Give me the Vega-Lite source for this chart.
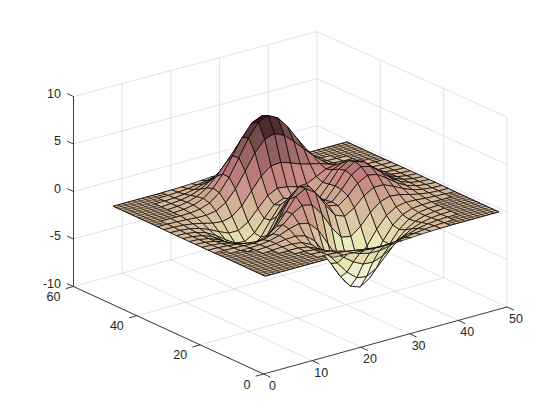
{"$schema":"https://vega.github.io/schema/vega-lite/v6.json","width":560,"height":420,"autosize":{"type":"fit","contains":"padding"},"padding":0,"background":"white","config":{"view":{"stroke":null}},
"datasets":{"segs":[
{"k":"g","x":0,"y":0,"z":-10,"x2":0,"y2":60,"z2":-10},{"k":"g","x":10,"y":0,"z":-10,"x2":10,"y2":60,"z2":-10},{"k":"g","x":20,"y":0,"z":-10,"x2":20,"y2":60,"z2":-10},{"k":"g","x":30,"y":0,"z":-10,"x2":30,"y2":60,"z2":-10},{"k":"g","x":40,"y":0,"z":-10,"x2":40,"y2":60,"z2":-10},{"k":"g","x":50,"y":0,"z":-10,"x2":50,"y2":60,"z2":-10},
{"k":"g","x":0,"y":20,"z":-10,"x2":50,"y2":20,"z2":-10},{"k":"g","x":0,"y":40,"z":-10,"x2":50,"y2":40,"z2":-10},{"k":"g","x":0,"y":60,"z":-10,"x2":50,"y2":60,"z2":-10},
{"k":"g","x":10,"y":60,"z":-10,"x2":10,"y2":60,"z2":9.95},{"k":"g","x":20,"y":60,"z":-10,"x2":20,"y2":60,"z2":9.9},{"k":"g","x":30,"y":60,"z":-10,"x2":30,"y2":60,"z2":9.86},{"k":"g","x":40,"y":60,"z":-10,"x2":40,"y2":60,"z2":9.82},{"k":"g","x":50,"y":60,"z":-10,"x2":50,"y2":60,"z2":9.77},
{"k":"g","x":0,"y":60,"z":-5,"x2":50,"y2":60,"z2":-5.05},{"k":"g","x":0,"y":60,"z":0,"x2":50,"y2":60,"z2":-0.12},{"k":"g","x":0,"y":60,"z":5,"x2":50,"y2":60,"z2":4.83},{"k":"g","x":0,"y":60,"z":10,"x2":50,"y2":60,"z2":9.77},
{"k":"g","x":50,"y":0,"z":-10,"x2":50,"y2":0,"z2":10},{"k":"g","x":50,"y":20,"z":-10,"x2":50,"y2":20,"z2":9.92},{"k":"g","x":50,"y":40,"z":-10,"x2":50,"y2":40,"z2":9.85},
{"k":"g","x":50,"y":0,"z":-5,"x2":50,"y2":60,"z2":-5.05},{"k":"g","x":50,"y":0,"z":0,"x2":50,"y2":60,"z2":-0.12},{"k":"g","x":50,"y":0,"z":5,"x2":50,"y2":60,"z2":4.83},{"k":"g","x":50,"y":0,"z":10,"x2":50,"y2":60,"z2":9.77},
{"k":"a","x":0,"y":0,"z":-10,"x2":50,"y2":0,"z2":-10},{"k":"a","x":0,"y":0,"z":-10,"x2":0,"y2":60,"z2":-10},{"k":"a","x":0,"y":60,"z":-10,"x2":0,"y2":60,"z2":10},
{"k":"a","x":0,"y":0,"z":-10,"x2":0,"y2":-2.2,"z2":-10},{"k":"a","x":10,"y":0,"z":-10,"x2":10,"y2":-2.2,"z2":-10},{"k":"a","x":20,"y":0,"z":-10,"x2":20,"y2":-2.2,"z2":-10},{"k":"a","x":30,"y":0,"z":-10,"x2":30,"y2":-2.2,"z2":-10},{"k":"a","x":40,"y":0,"z":-10,"x2":40,"y2":-2.2,"z2":-10},{"k":"a","x":50,"y":0,"z":-10,"x2":50,"y2":-2.2,"z2":-10},
{"k":"a","x":0,"y":0,"z":-10,"x2":-1.6,"y2":0,"z2":-10},{"k":"a","x":0,"y":20,"z":-10,"x2":-1.6,"y2":20,"z2":-10},{"k":"a","x":0,"y":40,"z":-10,"x2":-1.6,"y2":40,"z2":-10},{"k":"a","x":0,"y":60,"z":-10,"x2":-1.6,"y2":60,"z2":-10},
{"k":"a","x":0,"y":60,"z":-10,"x2":0,"y2":62,"z2":-10},{"k":"a","x":0,"y":60,"z":-5,"x2":0,"y2":62,"z2":-5},{"k":"a","x":0,"y":60,"z":0,"x2":0,"y2":62,"z2":0},{"k":"a","x":0,"y":60,"z":5,"x2":0,"y2":62,"z2":5},{"k":"a","x":0,"y":60,"z":10,"x2":0,"y2":62,"z2":10},
{"k":"m","x":1,"y":1,"z":0,"x2":1,"y2":49,"z2":0},{"k":"m","x":2,"y":1,"z":0,"x2":2,"y2":49,"z2":0},{"k":"m","x":3,"y":1,"z":0,"x2":3,"y2":49,"z2":0},{"k":"m","x":4,"y":1,"z":0,"x2":4,"y2":49,"z2":0},{"k":"m","x":5,"y":1,"z":0,"x2":5,"y2":49,"z2":0},{"k":"m","x":6,"y":1,"z":0,"x2":6,"y2":49,"z2":0},{"k":"m","x":7,"y":1,"z":0,"x2":7,"y2":49,"z2":0},{"k":"m","x":8,"y":1,"z":0,"x2":8,"y2":49,"z2":0},{"k":"m","x":9,"y":1,"z":0,"x2":9,"y2":49,"z2":0},{"k":"m","x":10,"y":1,"z":0,"x2":10,"y2":49,"z2":0},{"k":"m","x":11,"y":1,"z":0,"x2":11,"y2":49,"z2":0},{"k":"m","x":12,"y":1,"z":0,"x2":12,"y2":49,"z2":0},{"k":"m","x":13,"y":1,"z":0,"x2":13,"y2":49,"z2":0},{"k":"m","x":14,"y":1,"z":0,"x2":14,"y2":49,"z2":0},{"k":"m","x":15,"y":1,"z":0,"x2":15,"y2":49,"z2":0},{"k":"m","x":16,"y":1,"z":0,"x2":16,"y2":49,"z2":0},{"k":"m","x":17,"y":1,"z":0,"x2":17,"y2":49,"z2":0},{"k":"m","x":18,"y":1,"z":0,"x2":18,"y2":49,"z2":0},{"k":"m","x":19,"y":1,"z":0,"x2":19,"y2":49,"z2":0},{"k":"m","x":20,"y":1,"z":0,"x2":20,"y2":49,"z2":0},{"k":"m","x":21,"y":1,"z":0,"x2":21,"y2":49,"z2":0},{"k":"m","x":22,"y":1,"z":0,"x2":22,"y2":49,"z2":0},{"k":"m","x":23,"y":1,"z":0,"x2":23,"y2":49,"z2":0},{"k":"m","x":24,"y":1,"z":0,"x2":24,"y2":49,"z2":0},{"k":"m","x":25,"y":1,"z":0,"x2":25,"y2":49,"z2":0},{"k":"m","x":26,"y":1,"z":0,"x2":26,"y2":49,"z2":0},{"k":"m","x":27,"y":1,"z":0,"x2":27,"y2":49,"z2":0},{"k":"m","x":28,"y":1,"z":0,"x2":28,"y2":49,"z2":0},{"k":"m","x":29,"y":1,"z":0,"x2":29,"y2":49,"z2":0},{"k":"m","x":30,"y":1,"z":0,"x2":30,"y2":49,"z2":0},{"k":"m","x":31,"y":1,"z":0,"x2":31,"y2":49,"z2":0},{"k":"m","x":32,"y":1,"z":0,"x2":32,"y2":49,"z2":0},{"k":"m","x":33,"y":1,"z":0,"x2":33,"y2":49,"z2":0},{"k":"m","x":34,"y":1,"z":0,"x2":34,"y2":49,"z2":0},{"k":"m","x":35,"y":1,"z":0,"x2":35,"y2":49,"z2":0},{"k":"m","x":36,"y":1,"z":0,"x2":36,"y2":49,"z2":0},{"k":"m","x":37,"y":1,"z":0,"x2":37,"y2":49,"z2":0},{"k":"m","x":38,"y":1,"z":0,"x2":38,"y2":49,"z2":0},{"k":"m","x":39,"y":1,"z":0,"x2":39,"y2":49,"z2":0},{"k":"m","x":40,"y":1,"z":0,"x2":40,"y2":49,"z2":0},{"k":"m","x":41,"y":1,"z":0,"x2":41,"y2":49,"z2":0},{"k":"m","x":42,"y":1,"z":0,"x2":42,"y2":49,"z2":0},{"k":"m","x":43,"y":1,"z":0,"x2":43,"y2":49,"z2":0},{"k":"m","x":44,"y":1,"z":0,"x2":44,"y2":49,"z2":0},{"k":"m","x":45,"y":1,"z":0,"x2":45,"y2":49,"z2":0},{"k":"m","x":46,"y":1,"z":0,"x2":46,"y2":49,"z2":0},{"k":"m","x":47,"y":1,"z":0,"x2":47,"y2":49,"z2":0},{"k":"m","x":48,"y":1,"z":0,"x2":48,"y2":49,"z2":0},{"k":"m","x":49,"y":1,"z":0,"x2":49,"y2":49,"z2":0},
{"k":"m","x":1,"y":1,"z":0,"x2":49,"y2":1,"z2":0},{"k":"m","x":1,"y":2,"z":0,"x2":49,"y2":2,"z2":0},{"k":"m","x":1,"y":3,"z":0,"x2":49,"y2":3,"z2":0},{"k":"m","x":1,"y":4,"z":0,"x2":49,"y2":4,"z2":0},{"k":"m","x":1,"y":5,"z":0,"x2":49,"y2":5,"z2":0},{"k":"m","x":1,"y":6,"z":0,"x2":49,"y2":6,"z2":0},{"k":"m","x":1,"y":7,"z":0,"x2":49,"y2":7,"z2":0},{"k":"m","x":1,"y":8,"z":0,"x2":49,"y2":8,"z2":0},{"k":"m","x":1,"y":9,"z":0,"x2":49,"y2":9,"z2":0},{"k":"m","x":1,"y":10,"z":0,"x2":49,"y2":10,"z2":0},{"k":"m","x":1,"y":11,"z":0,"x2":49,"y2":11,"z2":0},{"k":"m","x":1,"y":12,"z":0,"x2":49,"y2":12,"z2":0},{"k":"m","x":1,"y":13,"z":0,"x2":49,"y2":13,"z2":0},{"k":"m","x":1,"y":14,"z":0,"x2":49,"y2":14,"z2":0},{"k":"m","x":1,"y":15,"z":0,"x2":49,"y2":15,"z2":0},{"k":"m","x":1,"y":16,"z":0,"x2":49,"y2":16,"z2":0},{"k":"m","x":1,"y":17,"z":0,"x2":49,"y2":17,"z2":0},{"k":"m","x":1,"y":18,"z":0,"x2":49,"y2":18,"z2":0},{"k":"m","x":1,"y":19,"z":0,"x2":49,"y2":19,"z2":0},{"k":"m","x":1,"y":20,"z":0,"x2":49,"y2":20,"z2":0},{"k":"m","x":1,"y":21,"z":0,"x2":49,"y2":21,"z2":0},{"k":"m","x":1,"y":22,"z":0,"x2":49,"y2":22,"z2":0},{"k":"m","x":1,"y":23,"z":0,"x2":49,"y2":23,"z2":0},{"k":"m","x":1,"y":24,"z":0,"x2":49,"y2":24,"z2":0},{"k":"m","x":1,"y":25,"z":0,"x2":49,"y2":25,"z2":0},{"k":"m","x":1,"y":26,"z":0,"x2":49,"y2":26,"z2":0},{"k":"m","x":1,"y":27,"z":0,"x2":49,"y2":27,"z2":0},{"k":"m","x":1,"y":28,"z":0,"x2":49,"y2":28,"z2":0},{"k":"m","x":1,"y":29,"z":0,"x2":49,"y2":29,"z2":0},{"k":"m","x":1,"y":30,"z":0,"x2":49,"y2":30,"z2":0},{"k":"m","x":1,"y":31,"z":0,"x2":49,"y2":31,"z2":0},{"k":"m","x":1,"y":32,"z":0,"x2":49,"y2":32,"z2":0},{"k":"m","x":1,"y":33,"z":0,"x2":49,"y2":33,"z2":0},{"k":"m","x":1,"y":34,"z":0,"x2":49,"y2":34,"z2":0},{"k":"m","x":1,"y":35,"z":0,"x2":49,"y2":35,"z2":0},{"k":"m","x":1,"y":36,"z":0,"x2":49,"y2":36,"z2":0},{"k":"m","x":1,"y":37,"z":0,"x2":49,"y2":37,"z2":0},{"k":"m","x":1,"y":38,"z":0,"x2":49,"y2":38,"z2":0},{"k":"m","x":1,"y":39,"z":0,"x2":49,"y2":39,"z2":0},{"k":"m","x":1,"y":40,"z":0,"x2":49,"y2":40,"z2":0},{"k":"m","x":1,"y":41,"z":0,"x2":49,"y2":41,"z2":0},{"k":"m","x":1,"y":42,"z":0,"x2":49,"y2":42,"z2":0},{"k":"m","x":1,"y":43,"z":0,"x2":49,"y2":43,"z2":0},{"k":"m","x":1,"y":44,"z":0,"x2":49,"y2":44,"z2":0},{"k":"m","x":1,"y":45,"z":0,"x2":49,"y2":45,"z2":0},{"k":"m","x":1,"y":46,"z":0,"x2":49,"y2":46,"z2":0},{"k":"m","x":1,"y":47,"z":0,"x2":49,"y2":47,"z2":0},{"k":"m","x":1,"y":48,"z":0,"x2":49,"y2":48,"z2":0},{"k":"m","x":1,"y":49,"z":0,"x2":49,"y2":49,"z2":0}
],
"base":[{"x":1,"y":1,"v":0},{"x":49,"y":1,"v":1},{"x":49,"y":49,"v":2},{"x":1,"y":49,"v":3}],
"labels":[{"a":"x","x":0,"y":0,"z":-10,"t":"0"},{"a":"x","x":10,"y":0,"z":-10,"t":"10"},{"a":"x","x":20,"y":0,"z":-10,"t":"20"},{"a":"x","x":30,"y":0,"z":-10,"t":"30"},{"a":"x","x":40,"y":0,"z":-10,"t":"40"},{"a":"x","x":50,"y":0,"z":-10,"t":"50"},
{"a":"y","x":0,"y":0,"z":-10,"t":"0"},{"a":"y","x":0,"y":20,"z":-10,"t":"20"},{"a":"y","x":0,"y":40,"z":-10,"t":"40"},{"a":"y","x":0,"y":60,"z":-10,"t":"60"},
{"a":"z","x":0,"y":60,"z":-10,"t":"-10"},{"a":"z","x":0,"y":60,"z":-5,"t":"-5"},{"a":"z","x":0,"y":60,"z":0,"t":"0"},{"a":"z","x":0,"y":60,"z":5,"t":"5"},{"a":"z","x":0,"y":60,"z":10,"t":"10"}],
"cells":[
{"x":37,"y":47,"z":[0.09,0.04,0.01,0.03]},{"x":35,"y":47,"z":[0.17,0.09,0.03,0.06]},{"x":33,"y":47,"z":[0.30,0.17,0.06,0.11]},{"x":31,"y":47,"z":[0.47,0.30,0.11,0.17]},{"x":29,"y":47,"z":[0.64,0.47,0.17,0.23]},{"x":27,"y":47,"z":[0.77,0.64,0.23,0.28]},{"x":25,"y":47,"z":[0.82,0.77,0.28,0.30]},{"x":23,"y":47,"z":[0.77,0.82,0.30,0.28]},{"x":21,"y":47,"z":[0.64,0.77,0.28,0.23]},{"x":19,"y":47,"z":[0.47,0.64,0.23,0.17]},{"x":17,"y":47,"z":[0.30,0.47,0.17,0.11]},{"x":15,"y":47,"z":[0.17,0.30,0.11,0.06]},{"x":13,"y":47,"z":[0.09,0.17,0.06,0.03]},{"x":11,"y":47,"z":[0.04,0.09,0.03,0.01]},
{"x":39,"y":45,"z":[0.09,0.04,0.01,0.04]},{"x":37,"y":45,"z":[0.21,0.09,0.04,0.09]},{"x":35,"y":45,"z":[0.40,0.21,0.09,0.17]},{"x":33,"y":45,"z":[0.70,0.40,0.17,0.30]},{"x":31,"y":45,"z":[1.08,0.70,0.30,0.47]},{"x":29,"y":45,"z":[1.47,1.08,0.47,0.64]},{"x":27,"y":45,"z":[1.77,1.47,0.64,0.77]},{"x":25,"y":45,"z":[1.89,1.77,0.77,0.82]},{"x":23,"y":45,"z":[1.77,1.89,0.82,0.77]},{"x":21,"y":45,"z":[1.47,1.77,0.77,0.64]},{"x":19,"y":45,"z":[1.07,1.47,0.64,0.47]},{"x":17,"y":45,"z":[0.69,1.07,0.47,0.30]},{"x":15,"y":45,"z":[0.39,0.69,0.30,0.17]},{"x":13,"y":45,"z":[0.19,0.39,0.17,0.09]},{"x":11,"y":45,"z":[0.08,0.19,0.09,0.04]},{"x":9,"y":45,"z":[0.03,0.08,0.04,0.01]},
{"x":41,"y":43,"z":[0.08,0.03,0.01,0.04]},{"x":39,"y":43,"z":[0.19,0.08,0.04,0.09]},{"x":37,"y":43,"z":[0.41,0.19,0.09,0.21]},{"x":35,"y":43,"z":[0.79,0.41,0.21,0.40]},{"x":33,"y":43,"z":[1.36,0.79,0.40,0.70]},{"x":31,"y":43,"z":[2.09,1.36,0.70,1.08]},{"x":29,"y":43,"z":[2.84,2.09,1.08,1.47]},{"x":27,"y":43,"z":[3.43,2.84,1.47,1.77]},{"x":25,"y":43,"z":[3.65,3.43,1.77,1.89]},{"x":23,"y":43,"z":[3.43,3.65,1.89,1.77]},{"x":21,"y":43,"z":[2.84,3.43,1.77,1.47]},{"x":19,"y":43,"z":[2.07,2.84,1.47,1.07]},{"x":17,"y":43,"z":[1.32,2.07,1.07,0.69]},{"x":15,"y":43,"z":[0.74,1.32,0.69,0.39]},{"x":13,"y":43,"z":[0.36,0.74,0.39,0.19]},{"x":11,"y":43,"z":[0.15,0.36,0.19,0.08]},{"x":9,"y":43,"z":[0.06,0.15,0.08,0.03]},{"x":7,"y":43,"z":[0.02,0.06,0.03,0.01]},
{"x":43,"y":41,"z":[0.05,0.02,0.01,0.03]},{"x":41,"y":41,"z":[0.13,0.05,0.03,0.08]},{"x":39,"y":41,"z":[0.32,0.13,0.08,0.19]},{"x":37,"y":41,"z":[0.68,0.32,0.19,0.41]},{"x":35,"y":41,"z":[1.29,0.68,0.41,0.79]},{"x":33,"y":41,"z":[2.21,1.29,0.79,1.36]},{"x":31,"y":41,"z":[3.37,2.21,1.36,2.09]},{"x":29,"y":41,"z":[4.57,3.37,2.09,2.84]},{"x":27,"y":41,"z":[5.50,4.57,2.84,3.43]},{"x":25,"y":41,"z":[5.86,5.50,3.43,3.65]},{"x":23,"y":41,"z":[5.51,5.86,3.65,3.43]},{"x":21,"y":41,"z":[4.56,5.51,3.43,2.84]},{"x":19,"y":41,"z":[3.31,4.56,2.84,2.07]},{"x":17,"y":41,"z":[2.10,3.31,2.07,1.32]},{"x":15,"y":41,"z":[1.16,2.10,1.32,0.74]},{"x":13,"y":41,"z":[0.55,1.16,0.74,0.36]},{"x":11,"y":41,"z":[0.23,0.55,0.36,0.15]},{"x":9,"y":41,"z":[0.08,0.23,0.15,0.06]},{"x":7,"y":41,"z":[0.02,0.08,0.06,0.02]},
{"x":43,"y":39,"z":[0.08,0.03,0.02,0.05]},{"x":41,"y":39,"z":[0.21,0.08,0.05,0.13]},{"x":39,"y":39,"z":[0.47,0.21,0.13,0.32]},{"x":37,"y":39,"z":[0.96,0.47,0.32,0.68]},{"x":35,"y":39,"z":[1.78,0.96,0.68,1.29]},{"x":33,"y":39,"z":[2.96,1.78,1.29,2.21]},{"x":31,"y":39,"z":[4.45,2.96,2.21,3.37]},{"x":29,"y":39,"z":[5.98,4.45,3.37,4.57]},{"x":27,"y":39,"z":[7.19,5.98,4.57,5.50]},{"x":25,"y":39,"z":[7.67,7.19,5.50,5.86]},{"x":23,"y":39,"z":[7.22,7.67,5.86,5.51]},{"x":21,"y":39,"z":[5.96,7.22,5.51,4.56]},{"x":19,"y":39,"z":[4.29,5.96,4.56,3.31]},{"x":17,"y":39,"z":[2.67,4.29,3.31,2.10]},{"x":15,"y":39,"z":[1.43,2.67,2.10,1.16]},{"x":13,"y":39,"z":[0.65,1.43,1.16,0.55]},{"x":11,"y":39,"z":[0.24,0.65,0.55,0.23]},{"x":9,"y":39,"z":[0.07,0.24,0.23,0.08]},{"x":7,"y":39,"z":[0.01,0.07,0.08,0.02]},
{"x":45,"y":37,"z":[0.05,0.02,0.01,0.03]},{"x":43,"y":37,"z":[0.12,0.05,0.03,0.08]},{"x":41,"y":37,"z":[0.29,0.12,0.08,0.21]},{"x":39,"y":37,"z":[0.62,0.29,0.21,0.47]},{"x":37,"y":37,"z":[1.19,0.62,0.47,0.96]},{"x":35,"y":37,"z":[2.05,1.19,0.96,1.78]},{"x":33,"y":37,"z":[3.25,2.05,1.78,2.96]},{"x":31,"y":37,"z":[4.72,3.25,2.96,4.45]},{"x":29,"y":37,"z":[6.25,4.72,4.45,5.98]},{"x":27,"y":37,"z":[7.48,6.25,5.98,7.19]},{"x":25,"y":37,"z":[8.00,7.48,7.19,7.67]},{"x":23,"y":37,"z":[7.54,8.00,7.67,7.22]},{"x":21,"y":37,"z":[6.20,7.54,7.22,5.96]},{"x":19,"y":37,"z":[4.38,6.20,5.96,4.29]},{"x":17,"y":37,"z":[2.61,4.38,4.29,2.67]},{"x":15,"y":37,"z":[1.28,2.61,2.67,1.43]},{"x":13,"y":37,"z":[0.48,1.28,1.43,0.65]},{"x":11,"y":37,"z":[0.11,0.48,0.65,0.24]},{"x":9,"y":37,"z":[-0.01,0.11,0.24,0.07]},{"x":7,"y":37,"z":[-0.03,-0.01,0.07,0.01]},
{"x":47,"y":35,"z":[0.03,0.01,0,0.02]},{"x":45,"y":35,"z":[0.07,0.03,0.02,0.05]},{"x":43,"y":35,"z":[0.19,0.07,0.05,0.12]},{"x":41,"y":35,"z":[0.41,0.19,0.12,0.29]},{"x":39,"y":35,"z":[0.79,0.41,0.29,0.62]},{"x":37,"y":35,"z":[1.35,0.79,0.62,1.19]},{"x":35,"y":35,"z":[2.09,1.35,1.19,2.05]},{"x":33,"y":35,"z":[2.97,2.09,2.05,3.25]},{"x":31,"y":35,"z":[3.97,2.97,3.25,4.72]},{"x":29,"y":35,"z":[5.02,3.97,4.72,6.25]},{"x":27,"y":35,"z":[5.94,5.02,6.25,7.48]},{"x":25,"y":35,"z":[6.39,5.94,7.48,8.00]},{"x":23,"y":35,"z":[6.06,6.39,8.00,7.54]},{"x":21,"y":35,"z":[4.92,6.06,7.54,6.20]},{"x":19,"y":35,"z":[3.29,4.92,6.20,4.38]},{"x":17,"y":35,"z":[1.69,3.29,4.38,2.61]},{"x":15,"y":35,"z":[0.55,1.69,2.61,1.28]},{"x":13,"y":35,"z":[-0.05,0.55,1.28,0.48]},{"x":11,"y":35,"z":[-0.22,-0.05,0.48,0.11]},{"x":9,"y":35,"z":[-0.20,-0.22,0.11,-0.01]},{"x":7,"y":35,"z":[-0.12,-0.20,-0.01,-0.03]},{"x":5,"y":35,"z":[-0.06,-0.12,-0.03,-0.02]},{"x":3,"y":35,"z":[-0.02,-0.06,-0.02,-0.01]},
{"x":47,"y":33,"z":[0.04,0.01,0.01,0.03]},{"x":45,"y":33,"z":[0.11,0.04,0.03,0.07]},{"x":43,"y":33,"z":[0.28,0.11,0.07,0.19]},{"x":41,"y":33,"z":[0.58,0.28,0.19,0.41]},{"x":39,"y":33,"z":[1.03,0.58,0.41,0.79]},{"x":37,"y":33,"z":[1.58,1.03,0.79,1.35]},{"x":35,"y":33,"z":[2.08,1.58,1.35,2.09]},{"x":33,"y":33,"z":[2.43,2.08,2.09,2.97]},{"x":31,"y":33,"z":[2.66,2.43,2.97,3.97]},{"x":29,"y":33,"z":[2.94,2.66,3.97,5.02]},{"x":27,"y":33,"z":[3.34,2.94,5.02,5.94]},{"x":25,"y":33,"z":[3.69,3.34,5.94,6.39]},{"x":23,"y":33,"z":[3.59,3.69,6.39,6.06]},{"x":21,"y":33,"z":[2.79,3.59,6.06,4.92]},{"x":19,"y":33,"z":[1.51,2.79,4.92,3.29]},{"x":17,"y":33,"z":[0.23,1.51,3.29,1.69]},{"x":15,"y":33,"z":[-0.60,0.23,1.69,0.55]},{"x":13,"y":33,"z":[-0.86,-0.60,0.55,-0.05]},{"x":11,"y":33,"z":[-0.74,-0.86,-0.05,-0.22]},{"x":9,"y":33,"z":[-0.48,-0.74,-0.22,-0.20]},{"x":7,"y":33,"z":[-0.25,-0.48,-0.20,-0.12]},{"x":5,"y":33,"z":[-0.11,-0.25,-0.12,-0.06]},{"x":3,"y":33,"z":[-0.04,-0.11,-0.06,-0.02]},{"x":1,"y":33,"z":[-0.01,-0.04,-0.02,-0.01]},
{"x":47,"y":31,"z":[0.06,0.02,0.01,0.04]},{"x":45,"y":31,"z":[0.17,0.06,0.04,0.11]},{"x":43,"y":31,"z":[0.41,0.17,0.11,0.28]},{"x":41,"y":31,"z":[0.82,0.41,0.28,0.58]},{"x":39,"y":31,"z":[1.40,0.82,0.58,1.03]},{"x":37,"y":31,"z":[1.99,1.40,1.03,1.58]},{"x":35,"y":31,"z":[2.32,1.99,1.58,2.08]},{"x":33,"y":31,"z":[2.17,2.32,2.08,2.43]},{"x":31,"y":31,"z":[1.65,2.17,2.43,2.66]},{"x":29,"y":31,"z":[1.17,1.65,2.66,2.94]},{"x":27,"y":31,"z":[1.12,1.17,2.94,3.34]},{"x":25,"y":31,"z":[1.42,1.12,3.34,3.69]},{"x":23,"y":31,"z":[1.55,1.42,3.69,3.59]},{"x":21,"y":31,"z":[1.04,1.55,3.59,2.79]},{"x":19,"y":31,"z":[-0.05,1.04,2.79,1.51]},{"x":17,"y":31,"z":[-1.16,-0.05,1.51,0.23]},{"x":15,"y":31,"z":[-1.78,-1.16,0.23,-0.60]},{"x":13,"y":31,"z":[-1.76,-1.78,-0.60,-0.86]},{"x":11,"y":31,"z":[-1.33,-1.76,-0.86,-0.74]},{"x":9,"y":31,"z":[-0.82,-1.33,-0.74,-0.48]},{"x":7,"y":31,"z":[-0.42,-0.82,-0.48,-0.25]},{"x":5,"y":31,"z":[-0.18,-0.42,-0.25,-0.11]},{"x":3,"y":31,"z":[-0.07,-0.18,-0.11,-0.04]},{"x":1,"y":31,"z":[-0.02,-0.07,-0.04,-0.01]},
{"x":47,"y":29,"z":[0.08,0.02,0.02,0.06]},{"x":45,"y":29,"z":[0.23,0.08,0.06,0.17]},{"x":43,"y":29,"z":[0.55,0.23,0.17,0.41]},{"x":41,"y":29,"z":[1.09,0.55,0.41,0.82]},{"x":39,"y":29,"z":[1.84,1.09,0.82,1.40]},{"x":37,"y":29,"z":[2.56,1.84,1.40,1.99]},{"x":35,"y":29,"z":[2.83,2.56,1.99,2.32]},{"x":33,"y":29,"z":[2.38,2.83,2.32,2.17]},{"x":31,"y":29,"z":[1.34,2.38,2.17,1.65]},{"x":29,"y":29,"z":[0.38,1.34,1.65,1.17]},{"x":27,"y":29,"z":[0.09,0.38,1.17,1.12]},{"x":25,"y":29,"z":[0.46,0.09,1.12,1.42]},{"x":23,"y":29,"z":[0.80,0.46,1.42,1.55]},{"x":21,"y":29,"z":[0.39,0.80,1.55,1.04]},{"x":19,"y":29,"z":[-0.76,0.39,1.04,-0.05]},{"x":17,"y":29,"z":[-2.00,-0.76,-0.05,-1.16]},{"x":15,"y":29,"z":[-2.64,-2.00,-1.16,-1.78]},{"x":13,"y":29,"z":[-2.49,-2.64,-1.78,-1.76]},{"x":11,"y":29,"z":[-1.85,-2.49,-1.76,-1.33]},{"x":9,"y":29,"z":[-1.12,-1.85,-1.33,-0.82]},{"x":7,"y":29,"z":[-0.57,-1.12,-0.82,-0.42]},{"x":5,"y":29,"z":[-0.25,-0.57,-0.42,-0.18]},{"x":3,"y":29,"z":[-0.09,-0.25,-0.18,-0.07]},{"x":1,"y":29,"z":[-0.03,-0.09,-0.07,-0.02]},
{"x":47,"y":27,"z":[0.10,0.03,0.02,0.08]},{"x":45,"y":27,"z":[0.28,0.10,0.08,0.23]},{"x":43,"y":27,"z":[0.66,0.28,0.23,0.55]},{"x":41,"y":27,"z":[1.32,0.66,0.55,1.09]},{"x":39,"y":27,"z":[2.22,1.32,1.09,1.84]},{"x":37,"y":27,"z":[3.06,2.22,1.84,2.56]},{"x":35,"y":27,"z":[3.36,3.06,2.56,2.83]},{"x":33,"y":27,"z":[2.76,3.36,2.83,2.38]},{"x":31,"y":27,"z":[1.47,2.76,2.38,1.34]},{"x":29,"y":27,"z":[0.28,1.47,1.34,0.38]},{"x":27,"y":27,"z":[-0.03,0.28,0.38,0.09]},{"x":25,"y":27,"z":[0.52,-0.03,0.09,0.46]},{"x":23,"y":27,"z":[1.06,0.52,0.46,0.80]},{"x":21,"y":27,"z":[0.68,1.06,0.80,0.39]},{"x":19,"y":27,"z":[-0.65,0.68,0.39,-0.76]},{"x":17,"y":27,"z":[-2.15,-0.65,-0.76,-2.00]},{"x":15,"y":27,"z":[-2.98,-2.15,-2.00,-2.64]},{"x":13,"y":27,"z":[-2.87,-2.98,-2.64,-2.49]},{"x":11,"y":27,"z":[-2.16,-2.87,-2.49,-1.85]},{"x":9,"y":27,"z":[-1.32,-2.16,-1.85,-1.12]},{"x":7,"y":27,"z":[-0.67,-1.32,-1.12,-0.57]},{"x":5,"y":27,"z":[-0.29,-0.67,-0.57,-0.25]},{"x":3,"y":27,"z":[-0.11,-0.29,-0.25,-0.09]},{"x":1,"y":27,"z":[-0.03,-0.11,-0.09,-0.03]},
{"x":47,"y":25,"z":[0.11,0.03,0.03,0.10]},{"x":45,"y":25,"z":[0.30,0.11,0.10,0.28]},{"x":43,"y":25,"z":[0.70,0.30,0.28,0.66]},{"x":41,"y":25,"z":[1.41,0.70,0.66,1.32]},{"x":39,"y":25,"z":[2.37,1.41,1.32,2.22]},{"x":37,"y":25,"z":[3.27,2.37,2.22,3.06]},{"x":35,"y":25,"z":[3.58,3.27,3.06,3.36]},{"x":33,"y":25,"z":[2.94,3.58,3.36,2.76]},{"x":31,"y":25,"z":[1.57,2.94,2.76,1.47]},{"x":29,"y":25,"z":[0.37,1.57,1.47,0.28]},{"x":27,"y":25,"z":[0.19,0.37,0.28,-0.03]},{"x":25,"y":25,"z":[0.98,0.19,-0.03,0.52]},{"x":23,"y":25,"z":[1.75,0.98,0.52,1.06]},{"x":21,"y":25,"z":[1.48,1.75,1.06,0.68]},{"x":19,"y":25,"z":[0.06,1.48,0.68,-0.65]},{"x":17,"y":25,"z":[-1.65,0.06,-0.65,-2.15]},{"x":15,"y":25,"z":[-2.71,-1.65,-2.15,-2.98]},{"x":13,"y":25,"z":[-2.77,-2.71,-2.98,-2.87]},{"x":11,"y":25,"z":[-2.14,-2.77,-2.87,-2.16]},{"x":9,"y":25,"z":[-1.33,-2.14,-2.16,-1.32]},{"x":7,"y":25,"z":[-0.69,-1.33,-1.32,-0.67]},{"x":5,"y":25,"z":[-0.30,-0.69,-0.67,-0.29]},{"x":3,"y":25,"z":[-0.11,-0.30,-0.29,-0.11]},{"x":1,"y":25,"z":[-0.04,-0.11,-0.11,-0.03]},
{"x":47,"y":23,"z":[0.10,0.03,0.03,0.11]},{"x":45,"y":23,"z":[0.28,0.10,0.11,0.30]},{"x":43,"y":23,"z":[0.67,0.28,0.30,0.70]},{"x":41,"y":23,"z":[1.34,0.67,0.70,1.41]},{"x":39,"y":23,"z":[2.25,1.34,1.41,2.37]},{"x":37,"y":23,"z":[3.09,2.25,2.37,3.27]},{"x":35,"y":23,"z":[3.37,3.09,3.27,3.58]},{"x":33,"y":23,"z":[2.76,3.37,3.58,2.94]},{"x":31,"y":23,"z":[1.50,2.76,2.94,1.57]},{"x":29,"y":23,"z":[0.48,1.50,1.57,0.37]},{"x":27,"y":23,"z":[0.53,0.48,0.37,0.19]},{"x":25,"y":23,"z":[1.58,0.53,0.19,0.98]},{"x":23,"y":23,"z":[2.63,1.58,0.98,1.75]},{"x":21,"y":23,"z":[2.56,2.63,1.75,1.48]},{"x":19,"y":23,"z":[1.23,2.56,1.48,0.06]},{"x":17,"y":23,"z":[-0.56,1.23,0.06,-1.65]},{"x":15,"y":23,"z":[-1.84,-0.56,-1.65,-2.71]},{"x":13,"y":23,"z":[-2.16,-1.84,-2.71,-2.77]},{"x":11,"y":23,"z":[-1.78,-2.16,-2.77,-2.14]},{"x":9,"y":23,"z":[-1.14,-1.78,-2.14,-1.33]},{"x":7,"y":23,"z":[-0.60,-1.14,-1.33,-0.69]},{"x":5,"y":23,"z":[-0.27,-0.60,-0.69,-0.30]},{"x":3,"y":23,"z":[-0.10,-0.27,-0.30,-0.11]},{"x":1,"y":23,"z":[-0.03,-0.10,-0.11,-0.04]},
{"x":47,"y":21,"z":[0.09,0.03,0.03,0.10]},{"x":45,"y":21,"z":[0.24,0.09,0.10,0.28]},{"x":43,"y":21,"z":[0.56,0.24,0.28,0.67]},{"x":41,"y":21,"z":[1.12,0.56,0.67,1.34]},{"x":39,"y":21,"z":[1.88,1.12,1.34,2.25]},{"x":37,"y":21,"z":[2.56,1.88,2.25,3.09]},{"x":35,"y":21,"z":[2.76,2.56,3.09,3.37]},{"x":33,"y":21,"z":[2.20,2.76,3.37,2.76]},{"x":31,"y":21,"z":[1.14,2.20,2.76,1.50]},{"x":29,"y":21,"z":[0.39,1.14,1.50,0.48]},{"x":27,"y":21,"z":[0.70,0.39,0.48,0.53]},{"x":25,"y":21,"z":[2.00,0.70,0.53,1.58]},{"x":23,"y":21,"z":[3.30,2.00,1.58,2.63]},{"x":21,"y":21,"z":[3.55,3.30,2.63,2.56]},{"x":19,"y":21,"z":[2.49,3.55,2.56,1.23]},{"x":17,"y":21,"z":[0.80,2.49,1.23,-0.56]},{"x":15,"y":21,"z":[-0.60,0.80,-0.56,-1.84]},{"x":13,"y":21,"z":[-1.21,-0.60,-1.84,-2.16]},{"x":11,"y":21,"z":[-1.16,-1.21,-2.16,-1.78]},{"x":9,"y":21,"z":[-0.80,-1.16,-1.78,-1.14]},{"x":7,"y":21,"z":[-0.44,-0.80,-1.14,-0.60]},{"x":5,"y":21,"z":[-0.20,-0.44,-0.60,-0.27]},{"x":3,"y":21,"z":[-0.08,-0.20,-0.27,-0.10]},{"x":1,"y":21,"z":[-0.03,-0.08,-0.10,-0.03]},
{"x":47,"y":19,"z":[0.06,0.02,0.03,0.09]},{"x":45,"y":19,"z":[0.18,0.06,0.09,0.24]},{"x":43,"y":19,"z":[0.41,0.18,0.24,0.56]},{"x":41,"y":19,"z":[0.82,0.41,0.56,1.12]},{"x":39,"y":19,"z":[1.35,0.82,1.12,1.88]},{"x":37,"y":19,"z":[1.78,1.35,1.88,2.56]},{"x":35,"y":19,"z":[1.79,1.78,2.56,2.76]},{"x":33,"y":19,"z":[1.18,1.79,2.76,2.20]},{"x":31,"y":19,"z":[0.20,1.18,2.20,1.14]},{"x":29,"y":19,"z":[-0.41,0.20,1.14,0.39]},{"x":27,"y":19,"z":[0,-0.41,0.39,0.70]},{"x":25,"y":19,"z":[1.40,0,0.70,2.00]},{"x":23,"y":19,"z":[2.94,1.40,2.00,3.30]},{"x":21,"y":19,"z":[3.63,2.94,3.30,3.55]},{"x":19,"y":19,"z":[3.09,3.63,3.55,2.49]},{"x":17,"y":19,"z":[1.78,3.09,2.49,0.80]},{"x":15,"y":19,"z":[0.49,1.78,0.80,-0.60]},{"x":13,"y":19,"z":[-0.28,0.49,-0.60,-1.21]},{"x":11,"y":19,"z":[-0.51,-0.28,-1.21,-1.16]},{"x":9,"y":19,"z":[-0.42,-0.51,-1.16,-0.80]},{"x":7,"y":19,"z":[-0.25,-0.42,-0.80,-0.44]},{"x":5,"y":19,"z":[-0.12,-0.25,-0.44,-0.20]},{"x":3,"y":19,"z":[-0.05,-0.12,-0.20,-0.08]},{"x":1,"y":19,"z":[-0.02,-0.05,-0.08,-0.03]},
{"x":47,"y":17,"z":[0.04,0.01,0.02,0.06]},{"x":45,"y":17,"z":[0.11,0.04,0.06,0.18]},{"x":43,"y":17,"z":[0.26,0.11,0.18,0.41]},{"x":41,"y":17,"z":[0.50,0.26,0.41,0.82]},{"x":39,"y":17,"z":[0.77,0.50,0.82,1.35]},{"x":37,"y":17,"z":[0.88,0.77,1.35,1.78]},{"x":35,"y":17,"z":[0.58,0.88,1.78,1.79]},{"x":33,"y":17,"z":[-0.27,0.58,1.79,1.18]},{"x":31,"y":17,"z":[-1.43,-0.27,1.18,0.20]},{"x":29,"y":17,"z":[-2.22,-1.43,0.20,-0.41]},{"x":27,"y":17,"z":[-2.02,-2.22,-0.41,0]},{"x":25,"y":17,"z":[-0.72,-2.02,0,1.40]},{"x":23,"y":17,"z":[1.00,-0.72,1.40,2.94]},{"x":21,"y":17,"z":[2.22,1.00,2.94,3.63]},{"x":19,"y":17,"z":[2.45,2.22,3.63,3.09]},{"x":17,"y":17,"z":[1.86,2.45,3.09,1.78]},{"x":15,"y":17,"z":[0.98,1.86,1.78,0.49]},{"x":13,"y":17,"z":[0.30,0.98,0.49,-0.28]},{"x":11,"y":17,"z":[-0.04,0.30,-0.28,-0.51]},{"x":9,"y":17,"z":[-0.13,-0.04,-0.51,-0.42]},{"x":7,"y":17,"z":[-0.10,-0.13,-0.42,-0.25]},{"x":5,"y":17,"z":[-0.06,-0.10,-0.25,-0.12]},{"x":3,"y":17,"z":[-0.02,-0.06,-0.12,-0.05]},{"x":1,"y":17,"z":[-0.01,-0.02,-0.05,-0.02]},
{"x":47,"y":15,"z":[0.02,0,0.01,0.04]},{"x":45,"y":15,"z":[0.06,0.02,0.04,0.11]},{"x":43,"y":15,"z":[0.13,0.06,0.11,0.26]},{"x":41,"y":15,"z":[0.23,0.13,0.26,0.50]},{"x":39,"y":15,"z":[0.27,0.23,0.50,0.77]},{"x":37,"y":15,"z":[0.08,0.27,0.77,0.88]},{"x":35,"y":15,"z":[-0.56,0.08,0.88,0.58]},{"x":33,"y":15,"z":[-1.74,-0.56,0.58,-0.27]},{"x":31,"y":15,"z":[-3.22,-1.74,-0.27,-1.43]},{"x":29,"y":15,"z":[-4.40,-3.22,-1.43,-2.22]},{"x":27,"y":15,"z":[-4.60,-4.40,-2.22,-2.02]},{"x":25,"y":15,"z":[-3.61,-4.60,-2.02,-0.72]},{"x":23,"y":15,"z":[-1.85,-3.61,-0.72,1.00]},{"x":21,"y":15,"z":[-0.14,-1.85,1.00,2.22]},{"x":19,"y":15,"z":[0.88,-0.14,2.22,2.45]},{"x":17,"y":15,"z":[1.11,0.88,2.45,1.86]},{"x":15,"y":15,"z":[0.84,1.11,1.86,0.98]},{"x":13,"y":15,"z":[0.45,0.84,0.98,0.30]},{"x":11,"y":15,"z":[0.17,0.45,0.30,-0.04]},{"x":9,"y":15,"z":[0.03,0.17,-0.04,-0.13]},{"x":7,"y":15,"z":[-0.01,0.03,-0.13,-0.10]},{"x":5,"y":15,"z":[-0.01,-0.01,-0.10,-0.06]},{"x":3,"y":15,"z":[-0.01,-0.01,-0.06,-0.02]},
{"x":45,"y":13,"z":[0.03,0.01,0.02,0.06]},{"x":43,"y":13,"z":[0.05,0.03,0.06,0.13]},{"x":41,"y":13,"z":[0.04,0.05,0.13,0.23]},{"x":39,"y":13,"z":[-0.07,0.04,0.23,0.27]},{"x":37,"y":13,"z":[-0.44,-0.07,0.27,0.08]},{"x":35,"y":13,"z":[-1.27,-0.44,0.08,-0.56]},{"x":33,"y":13,"z":[-2.64,-1.27,-0.56,-1.74]},{"x":31,"y":13,"z":[-4.32,-2.64,-1.74,-3.22]},{"x":29,"y":13,"z":[-5.76,-4.32,-3.22,-4.40]},{"x":27,"y":13,"z":[-6.33,-5.76,-4.40,-4.60]},{"x":25,"y":13,"z":[-5.68,-6.33,-4.60,-3.61]},{"x":23,"y":13,"z":[-4.08,-5.68,-3.61,-1.85]},{"x":21,"y":13,"z":[-2.19,-4.08,-1.85,-0.14]},{"x":19,"y":13,"z":[-0.68,-2.19,-0.14,0.88]},{"x":17,"y":13,"z":[0.15,-0.68,0.88,1.11]},{"x":15,"y":13,"z":[0.39,0.15,1.11,0.84]},{"x":13,"y":13,"z":[0.33,0.39,0.84,0.45]},{"x":11,"y":13,"z":[0.18,0.33,0.45,0.17]},{"x":9,"y":13,"z":[0.08,0.18,0.17,0.03]},{"x":7,"y":13,"z":[0.03,0.08,0.03,-0.01]},
{"x":41,"y":11,"z":[-0.04,0,0.05,0.04]},{"x":39,"y":11,"z":[-0.20,-0.04,0.04,-0.07]},{"x":37,"y":11,"z":[-0.61,-0.20,-0.07,-0.44]},{"x":35,"y":11,"z":[-1.42,-0.61,-0.44,-1.27]},{"x":33,"y":11,"z":[-2.69,-1.42,-1.27,-2.64]},{"x":31,"y":11,"z":[-4.24,-2.69,-2.64,-4.32]},{"x":29,"y":11,"z":[-5.64,-4.24,-4.32,-5.76]},{"x":27,"y":11,"z":[-6.33,-5.64,-5.76,-6.33]},{"x":25,"y":11,"z":[-5.97,-6.33,-6.33,-5.68]},{"x":23,"y":11,"z":[-4.70,-5.97,-5.68,-4.08]},{"x":21,"y":11,"z":[-3.00,-4.70,-4.08,-2.19]},{"x":19,"y":11,"z":[-1.48,-3.00,-2.19,-0.68]},{"x":17,"y":11,"z":[-0.46,-1.48,-0.68,0.15]},{"x":15,"y":11,"z":[0.02,-0.46,0.15,0.39]},{"x":13,"y":11,"z":[0.15,0.02,0.39,0.33]},{"x":11,"y":11,"z":[0.13,0.15,0.33,0.18]},{"x":9,"y":11,"z":[0.07,0.13,0.18,0.08]},{"x":7,"y":11,"z":[0.03,0.07,0.08,0.03]},
{"x":41,"y":9,"z":[-0.06,-0.01,0,-0.04]},{"x":39,"y":9,"z":[-0.20,-0.06,-0.04,-0.20]},{"x":37,"y":9,"z":[-0.53,-0.20,-0.20,-0.61]},{"x":35,"y":9,"z":[-1.15,-0.53,-0.61,-1.42]},{"x":33,"y":9,"z":[-2.10,-1.15,-1.42,-2.69]},{"x":31,"y":9,"z":[-3.27,-2.10,-2.69,-4.24]},{"x":29,"y":9,"z":[-4.35,-3.27,-4.24,-5.64]},{"x":27,"y":9,"z":[-4.93,-4.35,-5.64,-6.33]},{"x":25,"y":9,"z":[-4.76,-4.93,-6.33,-5.97]},{"x":23,"y":9,"z":[-3.89,-4.76,-5.97,-4.70]},{"x":21,"y":9,"z":[-2.64,-3.89,-4.70,-3.00]},{"x":19,"y":9,"z":[-1.45,-2.64,-3.00,-1.48]},{"x":17,"y":9,"z":[-0.59,-1.45,-1.48,-0.46]},{"x":15,"y":9,"z":[-0.13,-0.59,-0.46,0.02]},{"x":13,"y":9,"z":[0.05,-0.13,0.02,0.15]},{"x":11,"y":9,"z":[0.07,0.05,0.15,0.13]},{"x":9,"y":9,"z":[0.05,0.07,0.13,0.07]},
{"x":41,"y":7,"z":[-0.05,-0.01,-0.01,-0.06]},{"x":39,"y":7,"z":[-0.14,-0.05,-0.06,-0.20]},{"x":37,"y":7,"z":[-0.35,-0.14,-0.20,-0.53]},{"x":35,"y":7,"z":[-0.73,-0.35,-0.53,-1.15]},{"x":33,"y":7,"z":[-1.32,-0.73,-1.15,-2.10]},{"x":31,"y":7,"z":[-2.05,-1.32,-2.10,-3.27]},{"x":29,"y":7,"z":[-2.72,-2.05,-3.27,-4.35]},{"x":27,"y":7,"z":[-3.10,-2.72,-4.35,-4.93]},{"x":25,"y":7,"z":[-3.02,-3.10,-4.93,-4.76]},{"x":23,"y":7,"z":[-2.51,-3.02,-4.76,-3.89]},{"x":21,"y":7,"z":[-1.74,-2.51,-3.89,-2.64]},{"x":19,"y":7,"z":[-1.00,-1.74,-2.64,-1.45]},{"x":17,"y":7,"z":[-0.44,-1.00,-1.45,-0.59]},{"x":15,"y":7,"z":[-0.12,-0.44,-0.59,-0.13]},{"x":13,"y":7,"z":[0.01,-0.12,-0.13,0.05]},{"x":11,"y":7,"z":[0.04,0.01,0.05,0.07]},
{"x":41,"y":5,"z":[-0.03,-0.01,-0.01,-0.05]},{"x":39,"y":5,"z":[-0.08,-0.03,-0.05,-0.14]},{"x":37,"y":5,"z":[-0.18,-0.08,-0.14,-0.35]},{"x":35,"y":5,"z":[-0.38,-0.18,-0.35,-0.73]},{"x":33,"y":5,"z":[-0.69,-0.38,-0.73,-1.32]},{"x":31,"y":5,"z":[-1.06,-0.69,-1.32,-2.05]},{"x":29,"y":5,"z":[-1.41,-1.06,-2.05,-2.72]},{"x":27,"y":5,"z":[-1.60,-1.41,-2.72,-3.10]},{"x":25,"y":5,"z":[-1.57,-1.60,-3.10,-3.02]},{"x":23,"y":5,"z":[-1.31,-1.57,-3.02,-2.51]},{"x":21,"y":5,"z":[-0.91,-1.31,-2.51,-1.74]},{"x":19,"y":5,"z":[-0.53,-0.91,-1.74,-1.00]},{"x":17,"y":5,"z":[-0.23,-0.53,-1.00,-0.44]},{"x":15,"y":5,"z":[-0.07,-0.23,-0.44,-0.12]},{"x":13,"y":5,"z":[0,-0.07,-0.12,0.01]},
{"x":39,"y":3,"z":[-0.03,-0.01,-0.03,-0.08]},{"x":37,"y":3,"z":[-0.08,-0.03,-0.08,-0.18]},{"x":35,"y":3,"z":[-0.17,-0.08,-0.18,-0.38]},{"x":33,"y":3,"z":[-0.30,-0.17,-0.38,-0.69]},{"x":31,"y":3,"z":[-0.46,-0.30,-0.69,-1.06]},{"x":29,"y":3,"z":[-0.61,-0.46,-1.06,-1.41]},{"x":27,"y":3,"z":[-0.69,-0.61,-1.41,-1.60]},{"x":25,"y":3,"z":[-0.68,-0.69,-1.60,-1.57]},{"x":23,"y":3,"z":[-0.56,-0.68,-1.57,-1.31]},{"x":21,"y":3,"z":[-0.39,-0.56,-1.31,-0.91]},{"x":19,"y":3,"z":[-0.22,-0.39,-0.91,-0.53]},{"x":17,"y":3,"z":[-0.10,-0.22,-0.53,-0.23]},{"x":15,"y":3,"z":[-0.02,-0.10,-0.23,-0.07]},{"x":13,"y":3,"z":[0,-0.02,-0.07,0]},
{"x":37,"y":1,"z":[-0.03,-0.01,-0.03,-0.08]},{"x":35,"y":1,"z":[-0.06,-0.03,-0.08,-0.17]},{"x":33,"y":1,"z":[-0.11,-0.06,-0.17,-0.30]},{"x":31,"y":1,"z":[-0.17,-0.11,-0.30,-0.46]},{"x":29,"y":1,"z":[-0.22,-0.17,-0.46,-0.61]},{"x":27,"y":1,"z":[-0.25,-0.22,-0.61,-0.69]},{"x":25,"y":1,"z":[-0.25,-0.25,-0.69,-0.68]},{"x":23,"y":1,"z":[-0.20,-0.25,-0.68,-0.56]},{"x":21,"y":1,"z":[-0.14,-0.20,-0.56,-0.39]},{"x":19,"y":1,"z":[-0.08,-0.14,-0.39,-0.22]},{"x":17,"y":1,"z":[-0.03,-0.08,-0.22,-0.10]},{"x":15,"y":1,"z":[0,-0.03,-0.10,-0.02]}
]},
"layer":[
{"data":{"name":"segs"},"transform":[{"filter":"datum.k=='g'"},{"calculate":"263.5+4.87*datum.x-3.167*datum.y","as":"sx"},{"calculate":"279-1.34*datum.x-1.458*datum.y-9.5*datum.z","as":"sy"},{"calculate":"263.5+4.87*datum.x2-3.167*datum.y2","as":"sx2"},{"calculate":"279-1.34*datum.x2-1.458*datum.y2-9.5*datum.z2","as":"sy2"}],
"mark":{"type":"rule","color":"#262626","opacity":0.17,"strokeWidth":0.8},"encoding":{"x":{"field":"sx","type":"quantitative","scale":{"domain":[0,560]},"axis":null},"y":{"field":"sy","type":"quantitative","scale":{"domain":[0,420],"reverse":true},"axis":null},"x2":{"field":"sx2"},"y2":{"field":"sy2"}}},
{"data":{"name":"base"},"transform":[{"calculate":"263.5+4.87*datum.x-3.167*datum.y","as":"sx"},{"calculate":"279-1.34*datum.x-1.458*datum.y","as":"sy"}],
"mark":{"type":"line","interpolate":"linear-closed","stroke":"black","strokeWidth":0.7,"fill":"#d6b99b"},"encoding":{"x":{"field":"sx","type":"quantitative","scale":{"domain":[0,560]},"axis":null},"y":{"field":"sy","type":"quantitative","scale":{"domain":[0,420],"reverse":true},"axis":null},"order":{"field":"v"}}},
{"data":{"name":"segs"},"transform":[{"filter":"datum.k=='m'"},{"calculate":"263.5+4.87*datum.x-3.167*datum.y","as":"sx"},{"calculate":"279-1.34*datum.x-1.458*datum.y-9.5*datum.z","as":"sy"},{"calculate":"263.5+4.87*datum.x2-3.167*datum.y2","as":"sx2"},{"calculate":"279-1.34*datum.x2-1.458*datum.y2-9.5*datum.z2","as":"sy2"}],
"mark":{"type":"rule","color":"black","strokeWidth":0.6},"encoding":{"x":{"field":"sx","type":"quantitative","scale":{"domain":[0,560]},"axis":null},"y":{"field":"sy","type":"quantitative","scale":{"domain":[0,420],"reverse":true},"axis":null},"x2":{"field":"sx2"},"y2":{"field":"sy2"}}},
{"data":{"name":"cells"},"transform":[{"calculate":"[0,2,2,0]","as":"dx"},{"calculate":"[0,0,2,2]","as":"dy"},{"calculate":"[0,1,2,3]","as":"v"},{"flatten":["z","dx","dy","v"]},{"joinaggregate":[{"op":"mean","field":"z","as":"c"}],"groupby":["x","y"]},{"calculate":"263.5+4.87*(datum.x+datum.dx)-3.167*(datum.y+datum.dy)","as":"sx"},{"calculate":"279-1.34*(datum.x+datum.dx)-1.458*(datum.y+datum.dy)-9.5*datum.z","as":"sy"}],
"mark":{"type":"line","interpolate":"linear-closed","stroke":"black","strokeWidth":0.7},"encoding":{"x":{"field":"sx","type":"quantitative","scale":{"domain":[0,560]},"axis":null},"y":{"field":"sy","type":"quantitative","scale":{"domain":[0,420],"reverse":true},"axis":null},"order":{"field":"v"},"detail":[{"field":"x"},{"field":"y"}],"fill":{"field":"c","type":"quantitative","legend":null,"scale":{"domain":[-6.55,-4.72,-2.89,-1.06,0.775,2.61,4.44,6.27,8.1],"range":["#ffffff","#f4f4dd","#e9e9b4","#ddcca4","#d0aa93","#c38080","#9f6868","#704a4a","#1e0000"],"interpolate":"rgb"}}}},
{"data":{"name":"segs"},"transform":[{"filter":"datum.k=='a'"},{"calculate":"263.5+4.87*datum.x-3.167*datum.y","as":"sx"},{"calculate":"279-1.34*datum.x-1.458*datum.y-9.5*datum.z","as":"sy"},{"calculate":"263.5+4.87*datum.x2-3.167*datum.y2","as":"sx2"},{"calculate":"279-1.34*datum.x2-1.458*datum.y2-9.5*datum.z2","as":"sy2"}],
"mark":{"type":"rule","color":"#262626","strokeWidth":0.9},"encoding":{"x":{"field":"sx","type":"quantitative","scale":{"domain":[0,560]},"axis":null},"y":{"field":"sy","type":"quantitative","scale":{"domain":[0,420],"reverse":true},"axis":null},"x2":{"field":"sx2"},"y2":{"field":"sy2"}}},
{"data":{"name":"labels"},"transform":[{"filter":"datum.a=='x'"},{"calculate":"263.5+4.87*datum.x-3.167*datum.y","as":"sx"},{"calculate":"279-1.34*datum.x-1.458*datum.y-9.5*datum.z","as":"sy"}],"mark":{"type":"text","font":"Liberation Sans","fontSize":12.5,"color":"#262626","align":"center","baseline":"middle","dx":9,"dy":12},"encoding":{"x":{"field":"sx","type":"quantitative","scale":{"domain":[0,560]},"axis":null},"y":{"field":"sy","type":"quantitative","scale":{"domain":[0,420],"reverse":true},"axis":null},"text":{"field":"t"}}},
{"data":{"name":"labels"},"transform":[{"filter":"datum.a=='y'"},{"calculate":"263.5+4.87*datum.x-3.167*datum.y","as":"sx"},{"calculate":"279-1.34*datum.x-1.458*datum.y-9.5*datum.z","as":"sy"}],"mark":{"type":"text","font":"Liberation Sans","fontSize":12.5,"color":"#262626","align":"right","baseline":"middle","dx":-13,"dy":10.5},"encoding":{"x":{"field":"sx","type":"quantitative","scale":{"domain":[0,560]},"axis":null},"y":{"field":"sy","type":"quantitative","scale":{"domain":[0,420],"reverse":true},"axis":null},"text":{"field":"t"}}},
{"data":{"name":"labels"},"transform":[{"filter":"datum.a=='z'"},{"calculate":"263.5+4.87*datum.x-3.167*datum.y","as":"sx"},{"calculate":"279-1.34*datum.x-1.458*datum.y-9.5*datum.z","as":"sy"}],"mark":{"type":"text","font":"Liberation Sans","fontSize":12.5,"color":"#262626","align":"right","baseline":"middle","dx":-12.5,"dy":-3},"encoding":{"x":{"field":"sx","type":"quantitative","scale":{"domain":[0,560]},"axis":null},"y":{"field":"sy","type":"quantitative","scale":{"domain":[0,420],"reverse":true},"axis":null},"text":{"field":"t"}}}
]}
